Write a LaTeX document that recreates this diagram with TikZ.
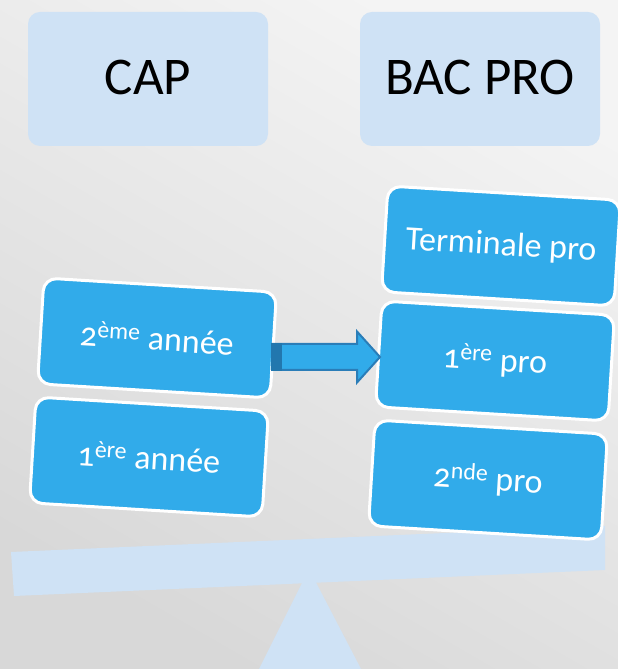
\documentclass[tikz,border=0pt]{standalone}
\usepackage{fontspec}
\setmainfont{Carlito}
\newfontfamily\stepfont[Numbers=OldStyle]{Carlito}
\usetikzlibrary{calc}
\definecolor{bgtop}{HTML}{F4F4F4}
\definecolor{bgbot}{HTML}{D8D8D8}
\definecolor{pale}{HTML}{CFE2F5}
\definecolor{boxblue}{HTML}{31ABEA}
\definecolor{arrowedge}{HTML}{2A7DB8}
\definecolor{arrowdark}{HTML}{2277AE}
\tikzset{
 headbox/.style={fill=pale, rounded corners=12pt, minimum width=240pt, minimum height=134pt,
   font=\fontsize{53}{60}\selectfont, text=black, inner sep=0pt},
 stepbox/.style={fill=boxblue, draw=white, line width=3pt, rounded corners=13pt,
   minimum width=233pt, minimum height=106pt, rotate=-3.5,
   font=\stepfont\fontsize{34}{40}\selectfont, text=white, inner sep=0pt},
}
\begin{document}
\begin{tikzpicture}[x=1pt,y=1pt]
\useasboundingbox (0,0) rectangle (618,669);
\shade[top color=bgtop,bottom color=bgbot,shading angle=-30] (0,0) rectangle (618,669);
% seesaw
\fill[pale] (309,100) -- (361,0) -- (259,0) -- cycle;
\fill[pale] (11,117) -- (14,73) -- (605,99) -- (605,143) -- cycle;
% headers
\node[headbox] (cap) at (148,590) {\raisebox{2.5pt}{CAP}};
\node[headbox] (bac) at (480,590) {\raisebox{2.5pt}{BAC PRO}};
% steps
\node[stepbox] (n2a) at (157,331) {2\textsuperscript{ème} année};
\node[stepbox] (n1a) at (149,212) {1\textsuperscript{ère} année};
\node[stepbox] (ntp) at (501,423) {Terminale pro};
\node[stepbox] (n1p) at (495,308) {1\textsuperscript{ère} pro};
\node[stepbox] (n2p) at (488,189) {2\textsuperscript{nde} pro};
% arrow
\coordinate (ast) at (272,312);
\coordinate (aen) at (380,312);
\draw[arrowedge, line width=2pt, fill=boxblue, line join=miter]
  ($(ast)+(0,13)$) -- ++(85,0) -- ++(0,12.5) -- (aen) -- ++(-23,-25.5) -- ++(0,12.5) -- ++(-85,0) -- cycle;
\fill[arrowdark] ($(ast)+(-1,-14)$) rectangle ($(ast)+(10,14)$);
\end{tikzpicture}
\end{document}
